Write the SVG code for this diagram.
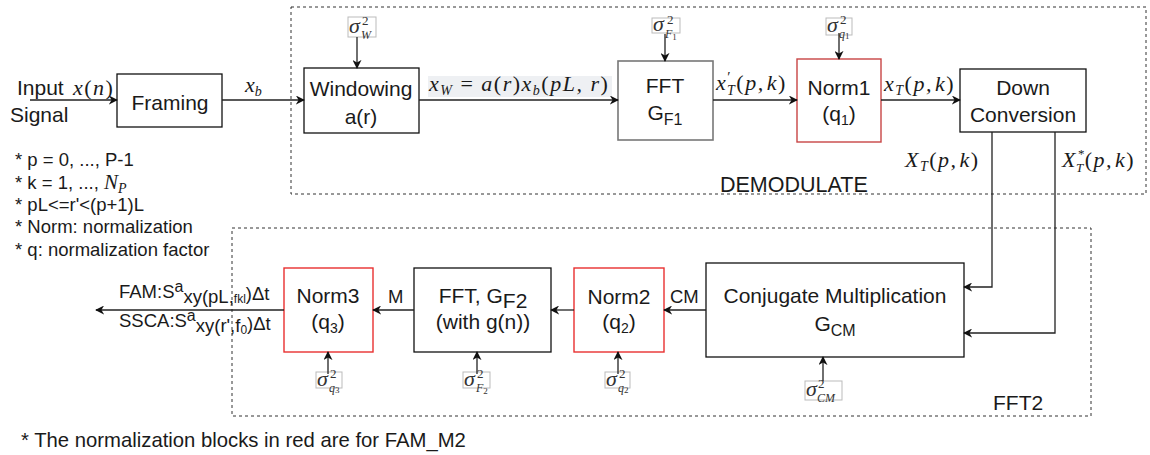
<svg xmlns="http://www.w3.org/2000/svg" width="1150" height="455" viewBox="0 0 1150 455">
<style>
.bx{fill:#fff;stroke:#111;stroke-width:1.3}
.gr{fill:#fff;stroke:#777;stroke-width:1.6}
.rd{fill:#fff;stroke:#d83a3a;stroke-width:1.4}
.dash{fill:none;stroke:#333;stroke-width:1;stroke-dasharray:3 3}
.t{font-family:"Liberation Sans",Arial,sans-serif;font-size:21px;fill:#1a1a1a}
.n{font-family:"Liberation Sans",Arial,sans-serif;font-size:18.5px;fill:#1a1a1a}
.m{font-family:"Liberation Serif","DejaVu Serif",serif;font-style:italic;font-size:22px;letter-spacing:1.5px;fill:#1a1a1a}
.up{font-style:normal}
.sg{font-family:"Liberation Serif","DejaVu Serif",serif;font-style:italic;font-size:22px;fill:#333}
.sp{font-family:"Liberation Serif","DejaVu Serif",serif;font-size:13px;fill:#333}
.sb{font-family:"Liberation Serif","DejaVu Serif",serif;font-style:italic;font-size:12px;fill:#333}
.lb{fill:#fff;stroke:#bbb;stroke-width:1}
.c{fill:none;stroke:#222;stroke-width:1.3}
</style>
<defs>
<marker id="a" viewBox="0 0 10 10" refX="9" refY="5" markerWidth="9" markerHeight="9" markerUnits="userSpaceOnUse" orient="auto">
<path d="M0,0 L10,5 L0,10 L3,5 z" fill="#111"/>
</marker>
</defs>

<rect id="demodulate" class="dash" x="291" y="7" width="855" height="187"/>
<rect id="fft2" class="dash" x="232" y="228" width="859" height="188"/>
<text class="t" x="720" y="192" style="font-size:21.5px">DEMODULATE</text>
<text class="t" x="993" y="410">FFT2</text>

<g id="input">
<text class="t" x="17" y="95">Input</text>
<text class="m" x="73" y="95">x<tspan class="up">(</tspan>n<tspan class="up">)</tspan></text>
<text class="t" x="10" y="122">Signal</text>
</g>

<g id="framing"><rect class="bx" x="117" y="74" width="105" height="53"/><text class="t" x="170" y="110" text-anchor="middle">Framing</text></g>
<g id="windowing"><rect class="bx" x="304" y="68" width="115" height="65"/><text class="t" x="361" y="96" text-anchor="middle">Windowing</text><text class="t" x="361" y="124" text-anchor="middle">a(r)</text></g>
<g id="fft1"><rect class="gr" x="618" y="61" width="95" height="79"/><text class="t" x="665" y="93" text-anchor="middle">FFT</text><text class="t" x="665" y="120" text-anchor="middle">G<tspan font-size="16" dy="5">F1</tspan></text></g>
<g id="norm1"><rect class="rd" x="797" y="59" width="84" height="83" stroke="#c84545" style="stroke:#c84545"/><text class="t" x="839" y="95" text-anchor="middle">Norm1</text><text class="t" x="839" y="121" text-anchor="middle">(q<tspan font-size="14" dy="4">1</tspan><tspan dy="-4">)</tspan></text></g>
<g id="downconv"><rect class="bx" x="960" y="69" width="126" height="63"/><text class="t" x="1023" y="95" text-anchor="middle">Down</text><text class="t" x="1023" y="122" text-anchor="middle">Conversion</text></g>

<g id="cm"><rect class="bx" x="706" y="263" width="258" height="94"/><text class="t" x="835" y="303" text-anchor="middle">Conjugate Multiplication</text><text class="t" x="835" y="331" text-anchor="middle">G<tspan font-size="16" dy="5">CM</tspan></text></g>
<g id="norm2"><rect class="rd" x="574" y="268" width="90" height="84" style="stroke:#e83030"/><text class="t" x="619" y="304" text-anchor="middle">Norm2</text><text class="t" x="619" y="329" text-anchor="middle">(q<tspan font-size="14" dy="4">2</tspan><tspan dy="-4">)</tspan></text></g>
<g id="fftg2"><rect class="bx" x="414" y="268" width="137" height="84"/><text class="t" x="483" y="303" text-anchor="middle">FFT, G<tspan dy="5">F2</tspan></text><text class="t" x="483" y="329" text-anchor="middle">(with g(n))</text></g>
<g id="norm3"><rect class="rd" x="284" y="268" width="89" height="84" style="stroke:#e83030"/><text class="t" x="328" y="303" text-anchor="middle">Norm3</text><text class="t" x="328" y="329" text-anchor="middle">(q<tspan font-size="14" dy="4">3</tspan><tspan dy="-4">)</tspan></text></g>

<g id="sigmas">
<rect class="lb" x="348" y="17" width="28" height="20"/><text class="sg" x="349" y="33">σ</text><text class="sp" x="362" y="25">2</text><text class="sb" x="361" y="38.5">W</text>
<rect class="lb" x="652" y="18" width="28" height="15"/><text class="sg" x="653" y="31">σ</text><text class="sp" x="667" y="24">2</text><text class="sb" x="665" y="37.5">F<tspan font-size="9" dy="2" font-style="normal">1</tspan></text>
<rect class="lb" x="826" y="18" width="26" height="17"/><text class="sg" x="827" y="32">σ</text><text class="sp" x="840" y="24">2</text><text class="sb" x="839" y="37.5">q<tspan font-size="9" dy="1" font-style="normal">1</tspan></text>
<rect class="lb" x="805" y="381" width="37" height="19"/><text class="sg" x="806" y="396">σ</text><text class="sp" x="818" y="388">2</text><text class="sb" x="817" y="401.5">CM</text>
<rect class="lb" x="463" y="372" width="27" height="16"/><text class="sg" x="464" y="386">σ</text><text class="sp" x="477" y="378">2</text><text class="sb" x="476" y="392">F<tspan font-size="9" dy="2" font-style="normal">2</tspan></text>
<rect class="lb" x="605" y="372" width="25" height="16"/><text class="sg" x="606" y="386">σ</text><text class="sp" x="619" y="378">2</text><text class="sb" x="618" y="392">q<tspan font-size="9" dy="1" font-style="normal">2</tspan></text>
<rect class="lb" x="316" y="372" width="26" height="16"/><text class="sg" x="317" y="386">σ</text><text class="sp" x="330" y="378">2</text><text class="sb" x="329" y="392">q<tspan font-size="9" dy="1" font-style="normal">3</tspan></text>
</g>

<g id="labels">
<text class="m" x="245" y="92" style="letter-spacing:0">x<tspan font-size="14" dy="4">b</tspan></text>
<rect x="428" y="76" width="184" height="21" fill="#eef0f3"/>
<text class="m" x="429" y="91">x<tspan font-size="14" dy="4">W</tspan><tspan dy="-4" class="up"> = </tspan>a<tspan class="up">(</tspan>r<tspan class="up">)</tspan>x<tspan font-size="14" dy="4">b</tspan><tspan dy="-4" class="up">(</tspan>pL, r<tspan class="up">)</tspan></text>
<text class="m" x="716" y="90">x<tspan font-size="15" dy="-8" class="up">′</tspan><tspan font-size="14" x="727" dy="13">T</tspan><tspan dy="-5" class="up">(</tspan>p,<tspan dx="2">k</tspan><tspan class="up">)</tspan></text>
<text class="m" x="884" y="91">x<tspan font-size="14" dy="4">T</tspan><tspan dy="-4" class="up">(</tspan>p,<tspan dx="2">k</tspan><tspan class="up">)</tspan></text>
<text class="m" x="905" y="167">X<tspan font-size="14" dy="4">T</tspan><tspan dy="-4" class="up">(</tspan>p,<tspan dx="2">k</tspan><tspan class="up">)</tspan></text>
<text class="m" x="1062" y="167">X<tspan font-size="13" x="1078" dy="-9" class="up">*</tspan><tspan font-size="13" x="1076" dy="14">T</tspan><tspan dy="-5" class="up">(</tspan>p,<tspan dx="2">k</tspan><tspan class="up">)</tspan></text>
<text class="n" x="670" y="303">CM</text>
<text class="n" x="388" y="303">M</text>
<text class="n" x="119" y="298">FAM:S<tspan font-size="16" dy="-6">a</tspan><tspan dy="11">xy(pL,</tspan><tspan font-size="12">fkl</tspan><tspan dy="-3">)Δt</tspan></text>
<text class="n" x="119" y="327">SSCA:S<tspan font-size="16" dy="-6">a</tspan><tspan dy="11">xy(r',f</tspan><tspan font-size="12" dy="2">0</tspan><tspan dy="-4">)Δt</tspan></text>
</g>

<g id="notes">
<text class="n" x="15" y="166">* p = 0, ..., P-1</text>
<text class="n" x="15" y="189">* k = 1, ..., <tspan class="m" style="font-size:21px;letter-spacing:0">N<tspan font-size="14" dy="4">P</tspan></tspan></text>
<text class="n" x="15" y="211">* pL&lt;=r'&lt;(p+1)L</text>
<text class="n" x="15" y="233">* Norm: normalization</text>
<text class="n" x="15" y="256">* q: normalization factor</text>
<text class="n" x="21" y="447" style="font-size:20.3px">* The normalization blocks in red are for FAM_M2</text>
</g>

<g id="connectors" class="c">
<path d="M30,100 H117" marker-end="url(#a)"/>
<path d="M222,100 H304" marker-end="url(#a)"/>
<path d="M419,100 H618" marker-end="url(#a)"/>
<path d="M713,100 H797" marker-end="url(#a)"/>
<path d="M881,100 H960" marker-end="url(#a)"/>
<path d="M992,132 V287 H964" marker-end="url(#a)"/>
<path d="M1055,132 V333 H964" marker-end="url(#a)"/>
<path d="M706,310 H664" marker-end="url(#a)"/>
<path d="M574,310 H551" marker-end="url(#a)"/>
<path d="M414,310 H373" marker-end="url(#a)"/>
<path d="M284,310 H96" marker-end="url(#a)"/>
<path d="M357,37 V68" marker-end="url(#a)"/>
<path d="M665,34 V61" marker-end="url(#a)"/>
<path d="M839,33 V59" marker-end="url(#a)"/>
<path d="M823,381 V357" marker-end="url(#a)"/>
<path d="M618,374 V352" marker-end="url(#a)"/>
<path d="M477,374 V352" marker-end="url(#a)"/>
<path d="M328,374 V352" marker-end="url(#a)"/>
</g>
</svg>
